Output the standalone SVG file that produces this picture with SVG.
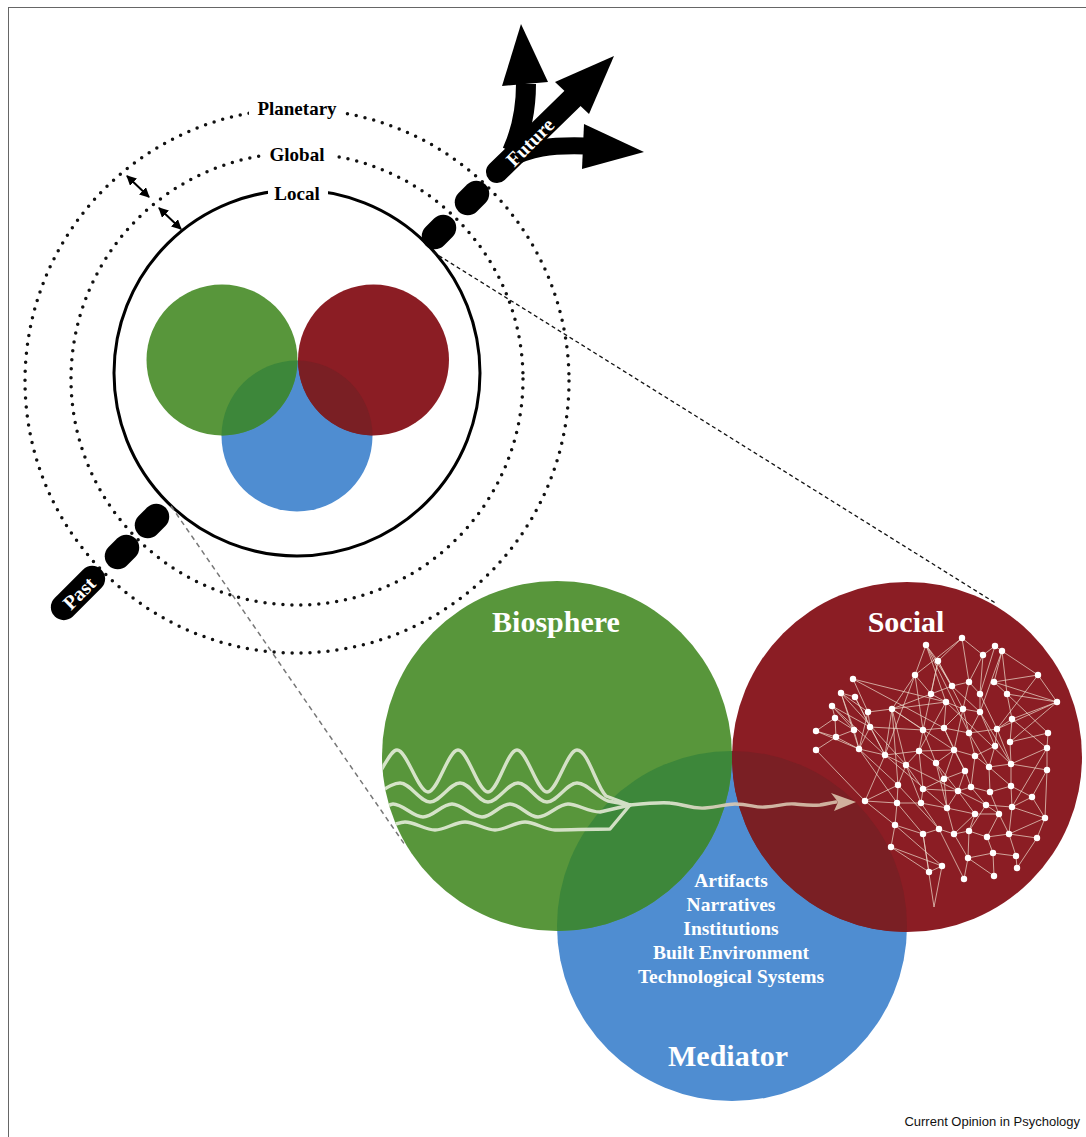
<svg xmlns="http://www.w3.org/2000/svg" width="1086" height="1137" viewBox="0 0 1086 1137">
<style>
.lbl{font-family:"Liberation Serif","Times New Roman",serif;font-weight:bold;text-anchor:middle}
.blk{fill:#000}
.wht{fill:#fff}
.dot{fill:none;stroke:#111;stroke-width:3.5;stroke-linecap:round;stroke-dasharray:0 9}
.wave{fill:none;stroke:url(#wg);stroke-width:3.4;stroke-linecap:round;stroke-linejoin:round}
.net{fill:none;stroke:#ecd9ca;stroke-width:0.8;opacity:0.9}
.nd{fill:#fff}
</style>
<defs>
<marker id="ah" viewBox="0 0 10 10" refX="9" refY="5" markerWidth="5" markerHeight="5" orient="auto-start-reverse" markerUnits="strokeWidth">
<path d="M0 0L10 5L0 10z" fill="#000"/>
</marker>
<linearGradient id="wg" gradientUnits="userSpaceOnUse" x1="383" y1="0" x2="856" y2="0">
<stop offset="0" stop-color="#e2ecd6"/>
<stop offset="0.6" stop-color="#dfe6d2"/>
<stop offset="0.75" stop-color="#d9c6b2"/>
<stop offset="1" stop-color="#d6bca6"/>
</linearGradient>
<clipPath id="cSB"><circle cx="297" cy="436" r="75.5"/></clipPath>
<clipPath id="cBB"><circle cx="732" cy="926" r="175"/></clipPath>
<clipPath id="cG"><circle cx="557" cy="756" r="175"/></clipPath>
</defs>
<rect x="8.5" y="7.5" width="1090" height="1140" fill="#fff" stroke="#666" stroke-width="1"/>

<g id="scale-rings">
<circle class="dot" cx="297" cy="381" r="272"/>
<circle class="dot" cx="297" cy="379" r="226"/>
<circle cx="297" cy="373" r="183" fill="none" stroke="#000" stroke-width="3"/>
<rect x="249" y="97" width="96" height="24" fill="#fff"/>
<rect x="262" y="143" width="72" height="24" fill="#fff"/>
<rect x="268" y="182" width="60" height="24" fill="#fff"/>
<text class="lbl" x="297" y="115" font-size="19">Planetary</text>
<text class="lbl" x="297" y="161" font-size="19">Global</text>
<text class="lbl" x="297" y="200" font-size="19">Local</text>
</g>

<g id="small-venn">
<circle cx="297" cy="436" r="75.5" fill="#4f8dd1"/>
<circle cx="222" cy="360" r="75.5" fill="#58963b"/>
<circle cx="373.5" cy="360" r="75.5" fill="#8b1d24"/>
<circle cx="222" cy="360" r="75.5" fill="#3d873a" clip-path="url(#cSB)"/>
<circle cx="373.5" cy="360" r="75.5" fill="#7a1f24" clip-path="url(#cSB)"/>
</g>

<g id="connectors">
<line x1="433" y1="252" x2="997" y2="604" stroke="#111" stroke-width="1.3" stroke-dasharray="4 3"/>
<line x1="171" y1="506" x2="405" y2="845" stroke="#777" stroke-width="1.5" stroke-dasharray="5 4"/>
<line x1="127" y1="176" x2="149" y2="197" stroke="#000" stroke-width="2" marker-start="url(#ah)" marker-end="url(#ah)"/>
<line x1="159" y1="208" x2="181" y2="229" stroke="#000" stroke-width="2" marker-start="url(#ah)" marker-end="url(#ah)"/>
</g>

<g id="past">
<rect x="133" y="508" width="38" height="26" rx="13" class="blk" transform="rotate(-45 152 521)"/>
<rect x="103" y="539" width="38" height="26" rx="13" class="blk" transform="rotate(-45 122 552)"/>
<rect x="45" y="580" width="66" height="26" rx="13" class="blk" transform="rotate(-45 78 593)"/>
<text class="lbl wht" x="79" y="600" font-size="20" transform="rotate(-45 79 593)">Past</text>
</g>

<g id="future">
<rect x="420" y="219" width="38" height="26" rx="13" class="blk" transform="rotate(-45 439 232)"/>
<rect x="453" y="185" width="38" height="26" rx="13" class="blk" transform="rotate(-45 472 198)"/>
<path d="M512 152C522 130 526 110 526 84" fill="none" stroke="#000" stroke-width="20"/>
<polygon points="502,86 521,24 548,82" class="blk"/>
<path d="M508 160C530 148 550 145 585 146" fill="none" stroke="#000" stroke-width="17"/>
<polygon points="584,124 644,152 582,169" class="blk"/>
<line x1="497" y1="172" x2="574" y2="97" stroke="#000" stroke-width="22" stroke-linecap="round"/>
<polygon points="555,82 614,56 589,114" class="blk"/>
<text class="lbl wht" x="530" y="149" font-size="20" transform="rotate(-45 530 142)">Future</text>
</g>

<g id="mediator">
<circle cx="732" cy="926" r="175" fill="#4f8dd1"/>
</g>
<g id="biosphere">
<circle cx="557" cy="756" r="175" fill="#58963b"/>
<circle cx="557" cy="756" r="175" fill="#3d873a" clip-path="url(#cBB)"/>
<text class="lbl wht" x="556" y="632" font-size="30">Biosphere</text>
</g>
<g id="social">
<circle cx="907" cy="757" r="175" fill="#8b1d24"/>
<circle cx="907" cy="757" r="175" fill="#7a1f24" clip-path="url(#cBB)"/>
<text class="lbl wht" x="906" y="632" font-size="30">Social</text>
<path class="net" d="M962 638L938 661M962 638L969 682M962 638L983 655M962 638L915 675M926 645L938 661M926 645L915 675M926 645L946 702M926 645L952 686M995 646L983 655M995 646L980 694M995 646L1002 651M1002 651L994 682M1002 651L1007 694M1002 651L980 712M1002 651L1038 675M983 655L969 682M983 655L980 694M938 661L952 686M938 661L931 694M938 661L963 709M938 661L923 730M1038 675L994 682M1038 675L1057 702M915 675L892 709M915 675L923 730M915 675L885 755M915 675L931 694M853 679L946 702M853 679L868 712M969 682L952 686M969 682L980 694M969 682L963 709M994 682L1007 694M994 682L1057 702M952 686L931 694M952 686L980 712M841 693L855 697M841 693L868 712M841 693L854 730M841 693L859 749M855 697L870 727M855 697L885 755M931 694L946 702M931 694L892 709M980 694L980 712M980 694L997 729M1007 694L1012 719M1007 694L1048 733M1007 694L1057 702M1057 702L1012 719M1057 702L997 729M1057 702L1010 742M946 702L963 709M946 702L944 728M946 702L892 709M946 702L919 751M832 706L835 718M832 706L870 727M832 706L854 730M868 712L870 727M868 712L892 709M868 712L859 749M892 709L885 755M892 709L923 730M892 709L906 765M892 709L898 785M963 709L980 712M963 709L969 733M963 709L944 728M963 709L954 750M980 712L969 733M980 712L995 746M980 712L1011 764M835 718L816 731M835 718L836 737M835 718L854 730M1012 719L997 729M1012 719L1047 748M1012 719L1010 742M870 727L859 749M870 727L885 755M870 727L923 730M854 730L836 737M854 730L859 749M923 730L944 728M923 730L919 751M923 730L936 763M944 728L969 733M944 728L954 750M944 728L965 771M969 733L997 729M969 733L975 756M969 733L989 767M997 729L995 746M997 729L1011 764M1048 733L1047 748M1048 733L1010 742M816 731L836 737M836 737L859 749M816 750L836 737M816 750L865 801M859 749L885 755M859 749L898 785M859 749L897 803M885 755L919 751M885 755L906 765M885 755L865 801M919 751L954 750M919 751L906 765M919 751L936 763M919 751L923 789M954 750L975 756M954 750L936 763M954 750L965 771M954 750L944 779M975 756L989 767M975 756L971 787M975 756L995 746M906 765L898 785M906 765L923 789M906 765L921 803M936 763L944 779M936 763L958 791M936 763L947 808M1011 764L989 767M1011 764L1047 770M1011 764L1011 786M1011 764L1010 742M1011 764L1047 748M965 771L958 791M965 771L971 787M965 771L944 779M989 767L990 792M989 767L995 746M989 767L1011 786M1047 770L1032 797M1047 770L1047 748M1047 770L1045 818M944 779L923 789M944 779L947 808M898 785L897 803M898 785L865 801M923 789L921 803M923 789L958 791M958 791L971 787M958 791L947 808M958 791L975 814M971 787L990 792M971 787L986 805M990 792L1011 786M990 792L999 814M1011 786L1032 797M1011 786L1012 807M1032 797L1012 807M1032 797L1045 818M865 801L897 803M865 801L895 825M897 803L921 803M897 803L895 825M897 803L923 834M921 803L947 808M921 803L939 829M947 808L975 814M947 808L954 834M986 805L1012 807M986 805L999 814M986 805L969 831M1012 807L1045 818M1012 807L1009 834M975 814L999 814M975 814L969 831M975 814L954 834M999 814L987 837M999 814L1009 834M1045 818L1037 838M1045 818L1009 834M895 825L923 834M895 825L891 847M895 825L942 866M939 829L954 834M939 829L923 834M939 829L964 879M923 834L929 872M954 834L969 831M954 834L968 858M969 831L987 837M969 831L968 858M987 837L1009 834M987 837L993 853M1009 834L1016 856M1009 834L1037 838M1037 838L1017 868M891 847L942 866M891 847L929 872M993 853L1016 856M993 853L994 876M993 853L968 858M1016 856L1017 868M968 858L964 879M968 858L994 876M942 866L929 872M942 866L934 907M923 834L934 907M853 679L944 728M832 706L885 755M816 731L859 749M926 645L969 733M1038 675L997 729M841 693L906 765M892 709L954 750M946 702L1011 764M885 755L947 808M906 765L986 805M1047 748L1012 807M898 785L939 829"/>
<g class="nd">
<circle cx="962" cy="638" r="3.2"/><circle cx="926" cy="645" r="3.2"/><circle cx="995" cy="646" r="3.2"/><circle cx="1002" cy="651" r="3.2"/><circle cx="983" cy="655" r="3.2"/><circle cx="938" cy="661" r="3.2"/><circle cx="1038" cy="675" r="3.2"/><circle cx="915" cy="675" r="3.2"/><circle cx="853" cy="679" r="3.2"/><circle cx="969" cy="682" r="3.2"/><circle cx="994" cy="682" r="3.2"/><circle cx="952" cy="686" r="3.2"/><circle cx="841" cy="693" r="3.2"/><circle cx="855" cy="697" r="3.2"/><circle cx="931" cy="694" r="3.2"/><circle cx="980" cy="694" r="3.2"/><circle cx="1007" cy="694" r="3.2"/><circle cx="1057" cy="702" r="3.2"/><circle cx="946" cy="702" r="3.2"/><circle cx="832" cy="706" r="3.2"/><circle cx="868" cy="712" r="3.2"/><circle cx="892" cy="709" r="3.2"/><circle cx="963" cy="709" r="3.2"/><circle cx="980" cy="712" r="3.2"/><circle cx="835" cy="718" r="3.2"/><circle cx="1012" cy="719" r="3.2"/><circle cx="870" cy="727" r="3.2"/><circle cx="854" cy="730" r="3.2"/><circle cx="923" cy="730" r="3.2"/><circle cx="944" cy="728" r="3.2"/><circle cx="969" cy="733" r="3.2"/><circle cx="997" cy="729" r="3.2"/><circle cx="1048" cy="733" r="3.2"/><circle cx="816" cy="731" r="3.2"/><circle cx="836" cy="737" r="3.2"/><circle cx="1010" cy="742" r="3.2"/><circle cx="995" cy="746" r="3.2"/><circle cx="1047" cy="748" r="3.2"/><circle cx="816" cy="750" r="3.2"/><circle cx="859" cy="749" r="3.2"/><circle cx="885" cy="755" r="3.2"/><circle cx="919" cy="751" r="3.2"/><circle cx="954" cy="750" r="3.2"/><circle cx="975" cy="756" r="3.2"/><circle cx="906" cy="765" r="3.2"/><circle cx="936" cy="763" r="3.2"/><circle cx="1011" cy="764" r="3.2"/><circle cx="965" cy="771" r="3.2"/><circle cx="989" cy="767" r="3.2"/><circle cx="1047" cy="770" r="3.2"/><circle cx="944" cy="779" r="3.2"/><circle cx="898" cy="785" r="3.2"/><circle cx="923" cy="789" r="3.2"/><circle cx="958" cy="791" r="3.2"/><circle cx="971" cy="787" r="3.2"/><circle cx="990" cy="792" r="3.2"/><circle cx="1011" cy="786" r="3.2"/><circle cx="1032" cy="797" r="3.2"/><circle cx="865" cy="801" r="3.2"/><circle cx="897" cy="803" r="3.2"/><circle cx="921" cy="803" r="3.2"/><circle cx="947" cy="808" r="3.2"/><circle cx="986" cy="805" r="3.2"/><circle cx="1012" cy="807" r="3.2"/><circle cx="975" cy="814" r="3.2"/><circle cx="999" cy="814" r="3.2"/><circle cx="1045" cy="818" r="3.2"/><circle cx="895" cy="825" r="3.2"/><circle cx="939" cy="829" r="3.2"/><circle cx="923" cy="834" r="3.2"/><circle cx="954" cy="834" r="3.2"/><circle cx="969" cy="831" r="3.2"/><circle cx="987" cy="837" r="3.2"/><circle cx="1009" cy="834" r="3.2"/><circle cx="1037" cy="838" r="3.2"/><circle cx="891" cy="847" r="3.2"/><circle cx="993" cy="853" r="3.2"/><circle cx="1016" cy="856" r="3.2"/><circle cx="968" cy="858" r="3.2"/><circle cx="942" cy="866" r="3.2"/><circle cx="929" cy="872" r="3.2"/><circle cx="1017" cy="868" r="3.2"/><circle cx="964" cy="879" r="3.2"/><circle cx="994" cy="876" r="3.2"/>
</g>
</g>

<g id="mediator-labels">
<text class="lbl wht" x="731" y="887" font-size="19.5">Artifacts</text>
<text class="lbl wht" x="731" y="911" font-size="19.5">Narratives</text>
<text class="lbl wht" x="731" y="935" font-size="19.5">Institutions</text>
<text class="lbl wht" x="731" y="959" font-size="19.5">Built Environment</text>
<text class="lbl wht" x="731" y="983" font-size="19.5">Technological Systems</text>
<text class="lbl wht" x="728" y="1066" font-size="30">Mediator</text>
</g>

<g id="waves" opacity="0.92">
<g clip-path="url(#cG)">
<path class="wave" d="M375 780C385 765 391 750 397 750C407 750 418 792 428 792C438 792 448 750 458 750C468 750 478 792 488 792C498 792 507 750 517 750C527 750 537 792 547 792C557 792 567 750 577 750C588 750 596 786 606 796L630 805"/>
<path class="wave" d="M375 795C388 787 394 783 400 783C410 783 420 802 430 802C440 802 450 783 460 783C470 783 478 802 488 802C498 802 508 783 518 783C528 783 537 802 547 802C557 802 567 783 577 783C587 783 596 796 608 801L630 805"/>
<path class="wave" d="M375 815C384 808 389 804 393 804C403 804 413 817 423 817C433 817 442 804 452 804C462 804 472 817 482 817C492 817 500 804 510 804C520 804 528 817 538 817C548 817 558 804 568 804C578 804 588 812 600 812L630 805"/>
<path class="wave" d="M375 832C390 826 398 822 405 822C415 822 425 830 435 830C445 830 455 822 465 822C475 822 485 830 495 830C505 830 515 822 525 822C535 822 545 830 555 830C570 830 590 829 610 829L630 805"/>
</g>
<path class="wave" d="M630 805C650 803 660 802 670 803C685 804 690 809 705 808C720 807 725 804 735 804C750 804 755 808 765 807C780 806 785 803 795 804C805 805 810 806 820 805C826 804 830 803 836 802"/>
<polygon points="831,793 856,802 834,811 838,802" fill="#d8bea8"/>
</g>

<text x="1080" y="1126" font-family="Liberation Sans, Arial, sans-serif" font-size="13" text-anchor="end" fill="#111">Current Opinion in Psychology</text>
</svg>
